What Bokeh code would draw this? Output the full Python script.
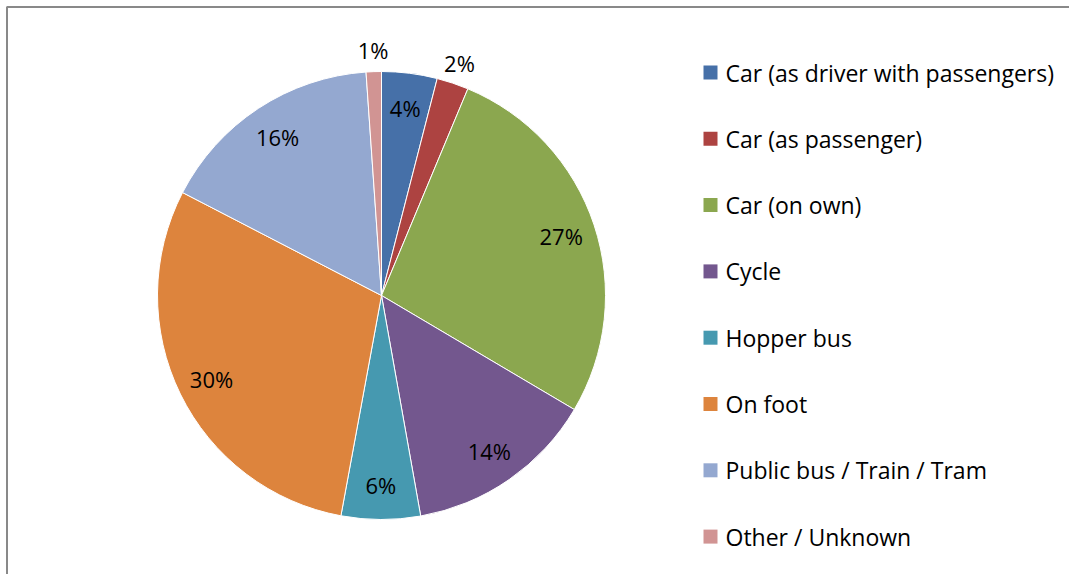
import math
from bokeh.plotting import figure
from bokeh.models import Range1d, ColumnDataSource
from bokeh.core.properties import value
from bokeh.embed import file_html
from bokeh.resources import INLINE

categories = ["Car (as driver with passengers)", "Car (as passenger)", "Car (on own)", "Cycle",
              "Hopper bus", "On foot", "Public bus / Train / Tram", "Other / Unknown"]
shares = [4.0, 2.3, 27.2, 13.7, 5.7, 29.7, 16.3, 1.1]
labels = ["4%", "2%", "27%", "14%", "6%", "30%", "16%", "1%"]
colors = ["#4670A8", "#AD4341", "#8BA74F", "#73578E", "#4699B0", "#DD843D", "#94A8D0", "#D19493"]

W, H = 1069, 574
FONT = "Open Sans"

# data coordinates = screen pixel coordinates (x from left, y from bottom of the 574 window)
p = figure(width=W, height=H, output_backend="svg", toolbar_location=None,
           x_range=Range1d(0, W), y_range=Range1d(574 - H, 574),
           min_border=0)
p.axis.visible = False
p.grid.visible = False
p.outline_line_color = None
p.background_fill_color = "white"

# frame (top and left edges visible)
p.line(x=[6, 1069], y=[574 - 6.5, 574 - 6.5], line_color="#898989", line_width=2)
p.line(x=[6.5, 6.5], y=[0, 574 - 6.5], line_color="#898989", line_width=2)

cx, cy, R = 381, 574 - 295, 224
total = sum(shares)
starts, ends, lx, ly = [], [], [], []
cum = 0.0
for s in shares:
    a0 = cum / total * 2 * math.pi
    cum += s
    a1 = cum / total * 2 * math.pi
    starts.append(math.pi / 2 - a0)
    ends.append(math.pi / 2 - a1)
    mid = (a0 + a1) / 2
    r = R * 1.095 if s < 3 else R * 0.845
    lx.append(cx + r * math.sin(mid))
    ly.append(cy + r * math.cos(mid))

src = ColumnDataSource(dict(start=starts, end=ends, color=colors, lx=lx, ly=ly, lab=labels))
p.wedge(x=cx, y=cy, radius=R, start_angle="start", end_angle="end", direction="clock",
        fill_color="color", line_color="white", line_width=1, source=src)
p.text(x="lx", y="ly", text="lab", source=src, text_font=value(FONT), text_font_size="22px",
       text_align="center", text_baseline="middle", text_color="black")

# legend
ly0 = 574 - 72
step = 66.3
leg = ColumnDataSource(dict(
    x=[710] * len(categories),
    y=[ly0 - i * step for i in range(len(categories))],
    tx=[725] * len(categories),
    name=categories, color=colors))
p.rect(x="x", y="y", width=14, height=14, fill_color="color", line_color=None, source=leg)
p.text(x="tx", y="y", text="name", source=leg, text_font=value(FONT), text_font_size="23px",
       text_align="left", text_baseline="middle", text_color="black")

open("out.html", "w").write(file_html(p, INLINE))
